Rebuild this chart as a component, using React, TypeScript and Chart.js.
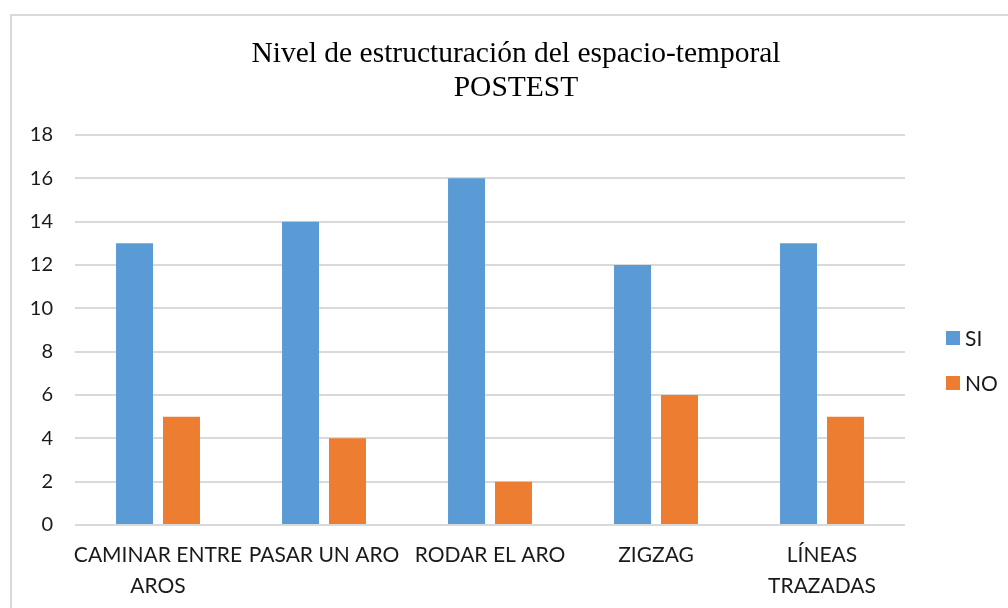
import React, { useEffect, useRef } from "react";
import { Chart, registerables } from "chart.js";

Chart.register(...registerables);

const categories: (string | string[])[] = [
  ["CAMINAR ENTRE", "AROS"],
  "PASAR UN ARO",
  "RODAR EL ARO",
  "ZIGZAG",
  ["LÍNEAS", "TRAZADAS"],
];
const siValues = [13, 14, 16, 12, 13];
const noValues = [5, 4, 2, 6, 5];
const titleLines = ["Nivel de estructuración del espacio-temporal", "POSTEST"];
const yMin = 0;
const yMax = 18;
const yStep = 2;

const BLUE = "#5B9BD5";
const ORANGE = "#ED7D31";
const GRID = "#d9d9d9";
const TEXT = "#1a1a1a";
const SANS = "Lato, 'Noto Sans', sans-serif";
const SERIF = "'Liberation Serif', 'DejaVu Serif', serif";

const legendPlugin = {
  id: "customLegend",
  afterDraw(chart: any) {
    const { ctx, chartArea } = chart;
    ctx.save();
    ctx.font = `21px ${SANS}`;
    ctx.textBaseline = "alphabetic";
    ctx.textAlign = "left";
    chart.data.datasets.forEach((ds: any, i: number) => {
      const cy = chartArea.top + 203 + i * 45;
      const x = chartArea.right + 41;
      ctx.fillStyle = ds.backgroundColor;
      ctx.fillRect(x, cy - 7, 14, 14);
      ctx.fillStyle = TEXT;
      ctx.fillText(ds.label, x + 19, cy + 8);
    });
    ctx.restore();
  },
};

export default function App() {
  const ref = useRef<HTMLCanvasElement>(null);
  useEffect(() => {
    if (!ref.current) return;
    const chart = new Chart(ref.current, {
      type: "bar",
      data: {
        labels: categories,
        datasets: [
          { label: "SI", data: siValues, backgroundColor: BLUE, borderWidth: 0 },
          { label: "NO", data: noValues, backgroundColor: ORANGE, borderWidth: 0 },
        ],
      },
      options: {
        responsive: false,
        animation: false,
        devicePixelRatio: 1,
        layout: { padding: 0 },
        datasets: {
          bar: { categoryPercentage: 0.566, barPercentage: 0.787 },
        },
        plugins: {
          legend: { display: false },
          tooltip: { enabled: false },
          title: {
            display: true,
            text: titleLines,
            color: "#000",
            font: { family: SERIF, size: 29.5, weight: "normal", lineHeight: "34px" },
            padding: { top: 21.5, bottom: 29.5 },
          },
        },
        scales: {
          x: {
            grid: { display: false, drawTicks: false },
            border: { display: false },
            ticks: {
              color: TEXT,
              font: { family: SANS, size: 21, lineHeight: "31px" },
              padding: 15,
              maxRotation: 0,
              autoSkip: false,
            },
            afterFit: (s: any) => {
              s.height = 83;
            },
          },
          y: {
            min: yMin,
            max: yMax,
            grid: { color: GRID, lineWidth: 2, drawTicks: false },
            border: { display: false },
            ticks: {
              stepSize: yStep,
              color: TEXT,
              font: { family: SANS, size: 20 },
              padding: 22,
            },
            afterFit: (s: any) => {
              s.width = 63;
            },
          },
          yr: {
            type: "linear",
            position: "right",
            grid: { display: false, drawTicks: false },
            border: { display: false },
            ticks: { display: false },
            afterFit: (s: any) => {
              s.width = 115;
            },
          },
        },
      },
      plugins: [legendPlugin],
    } as any);
    return () => chart.destroy();
  }, []);

  return (
    <div
      style={{
        position: "fixed",
        left: 0,
        top: 0,
        width: 1008,
        height: 608,
        overflow: "hidden",
        background: "#fff",
      }}
    >
      <div
        style={{
          position: "absolute",
          left: 10,
          top: 14,
          width: 1030,
          height: 620,
          borderLeft: `2px solid ${GRID}`,
          borderTop: `2px solid ${GRID}`,
        }}
      >
        <canvas
          ref={ref}
          width={1008}
          height={592}
          style={{ display: "block", width: 1008, height: 592 }}
        />
      </div>
    </div>
  );
}
